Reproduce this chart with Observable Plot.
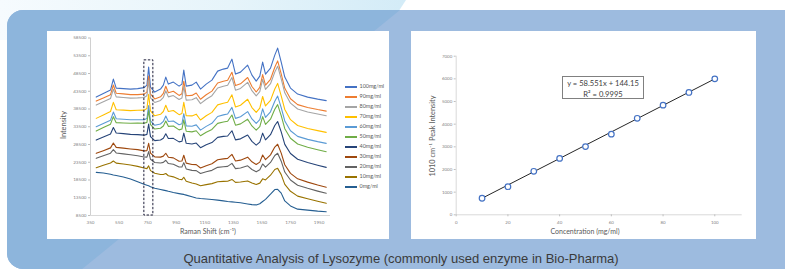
<!DOCTYPE html>
<html><head><meta charset="utf-8">
<script src="https://cdn.jsdelivr.net/npm/d3@7"></script>
<script src="https://cdn.jsdelivr.net/npm/@observablehq/plot@0.6"></script>
<style>
html,body{margin:0;padding:0;background:#fff;}
#stage{position:relative;width:785px;height:277px;overflow:hidden;background:#fff;font-family:Lato,"Liberation Sans",sans-serif;}
#glow{position:absolute;left:0;top:0;width:420px;height:40px;background:linear-gradient(90deg,#f6fbfe 0%,#e6f4fa 55%,#d2ebf7 100%);clip-path:polygon(0 0,406px 0,380px 40px,0 40px);}
#blue{position:absolute;left:7px;top:10px;width:810px;height:259px;border-radius:16px;background:#9dbbdf;overflow:hidden;}
#blueL{position:absolute;left:0;top:0;width:100%;height:100%;background:#8db5dc;clip-path:polygon(0 0,393px 0,74px 260px,0 260px);}
.panel{position:absolute;background:#fff;}
.chart{position:absolute;}
.t{position:absolute;white-space:nowrap;color:#595959;transform:translate(-50%,-50%);line-height:1;}
.leg{position:absolute;font-size:5.4px;color:#595959;white-space:nowrap;line-height:1;}
.leg i{display:inline-block;width:12px;height:1.2px;vertical-align:middle;margin-right:2.5px;}
#eq{position:absolute;left:562px;top:76px;width:82px;height:23px;border:1px solid #808080;box-sizing:border-box;background:#fff;font-size:7.6px;color:#404040;text-align:center;line-height:10.5px;padding-top:1px;}
#cap{position:absolute;left:401px;top:257.5px;transform:translate(-50%,-50%);font-family:"Liberation Sans",Arial,sans-serif;font-size:13px;color:#3a3a3a;white-space:nowrap;}
</style></head>
<body><div id="stage">
<div id="glow"></div>
<div id="blue"><div id="blueL"></div></div>
<div class="panel" style="left:47px;top:31px;width:342px;height:208px"></div>
<div class="panel" style="left:411px;top:31px;width:345px;height:208px"></div>
<div id="c1" class="chart" style="left:47px;top:31px"></div>
<div id="c2" class="chart" style="left:411px;top:31px"></div>
<div id="cap"></div>
</div>
<script>
// ---------- Left chart: Raman spectra ----------
const shifts = [390,440,490,510,530,580,630,680,725,745,757,770,800,840,860,877,895,930,970,990,1003,1020,1060,1090,1120,1160,1200,1240,1280,1310,1340,1365,1400,1450,1480,1510,1535,1555,1575,1610,1640,1660,1685,1710,1750,1800,1870,1940,2000];
const seriesNames = ["100mg/ml","90mg/ml","80mg/ml","70mg/ml","60mg/ml","50mg/ml","40mg/ml","30mg/ml","20mg/ml","10mg/ml","0mg/ml"];
const seriesColors = ["#4472C4","#ED7D31","#A5A5A5","#FFC000","#5B9BD5","#70AD47","#264478","#9E480E","#636363","#997300","#255E91"];
const s100 = [41850,42840,43830,46920,44390,44250,44110,44250,44530,45230,50300,44670,43260,44110,45230,47490,45510,46080,44950,45510,49460,44950,45230,46080,44110,45510,46640,49170,49740,50020,52550,48330,48890,50860,48050,46360,47770,51710,48330,50020,53680,55650,51710,47490,44390,42700,41850,41290,40870];
const s90 = [40730,41630,42530,45260,42950,42760,42560,42560,42700,43260,47790,42670,41320,41940,42920,44900,43070,43490,42330,42810,46330,42220,42330,43010,41260,42530,43540,45820,46330,46580,48860,45090,45600,47370,44840,43290,44590,48190,45200,46870,50270,52050,48380,44330,41380,39740,38930,38340,37910];
const s80 = [39600,40530,41460,44080,41910,41740,41570,41630,41740,42250,46500,41660,40330,40900,41800,43650,41910,42280,41180,41570,44900,41010,41090,41690,40020,41260,42250,44420,44920,45200,47370,43800,44300,46020,43650,42220,43400,46840,44020,45630,48890,50550,47010,43070,40140,38500,37660,37070,36590];
const s70 = [35860,36820,37800,40360,38280,38170,38050,38140,38170,38620,42670,37940,36590,37010,37800,39550,37800,38080,36900,37240,40390,36590,36560,37040,35410,36590,37550,39660,40140,40420,42500,39070,39570,41240,38900,37550,38730,42020,39350,40930,44130,45710,42220,38360,35490,33860,33020,32400,31920];
const s60 = [33490,34420,35350,37630,35750,35610,35460,35490,35490,35830,39490,35180,33920,34280,34990,36530,34960,35130,34060,34340,37180,33750,33660,34030,32540,33610,34480,36390,36840,37070,38960,35860,36310,37770,35690,34450,35520,38530,36140,37720,40700,42140,38870,35130,32370,30790,29950,29300,28820];
const s50 = [32280,33270,34230,36340,34650,34560,34480,34510,34480,34730,38050,34090,32850,33070,33720,35100,33610,33690,32620,32850,35440,32230,32060,32370,30960,31950,32730,34450,34850,35040,36820,33940,34310,35630,33720,32540,33520,36340,34170,35630,38450,39740,36620,32960,30260,28650,27720,27020,26460];
const s40 = [29750,30590,31440,33270,31720,31550,31350,31270,31130,31350,34250,30740,29580,29780,30280,31520,30170,30230,29240,29410,31690,28850,28650,28910,27610,28430,29050,30510,30790,30900,32370,29810,30090,31160,29380,28310,29160,31690,29810,31270,33860,34990,32060,28540,25950,24350,23420,22660,22060];
const s30 = [26010,26770,27550,28910,27690,27470,27240,27050,26710,26770,28850,26090,25020,24940,25220,26030,24910,24740,23780,23840,25470,23250,22850,22830,21870,22540,23080,24200,24460,24600,25720,23840,24090,24940,23640,22880,23530,25530,24230,25580,27780,28570,26060,22800,20380,18830,17900,17080,16440];
const s20 = [24600,25330,26060,27070,26120,25860,25610,25330,24990,24940,26510,24340,23420,23270,23470,24060,23130,22940,22150,22150,23390,21620,21220,21140,20320,20830,21220,22060,22230,22340,23190,21700,21870,22490,21450,20800,21360,23020,22120,23450,25410,26030,23810,20740,18490,17030,16150,15370,14750];
const s10 = [21950,22630,23300,23840,23250,23000,22710,22340,21870,21700,22490,21140,20380,20070,20070,20320,19700,19390,18690,18600,19280,18150,17650,17390,16890,17200,17480,17990,18100,18150,18660,17820,17930,18240,17650,17230,17620,18830,18520,19850,21450,21780,20010,17260,15310,13960,13200,12490,11930];
const s0 = [20660,20460,20100,19900,19760,19330,18770,17980,17310,17030,16860,16610,16180,15820,15650,15510,15310,14970,14660,14520,14440,14240,13790,13450,13280,13140,13000,12830,12630,12460,12350,12240,12070,11760,11560,11480,11820,12440,13060,14500,15820,15870,14800,12600,11190,10290,10010,9730,9560];
const shiftDomain = [350, 2030];
const shiftTicks = [350,550,750,950,1150,1350,1550,1750,1950];
const intensityDomain = [8500, 58500];
const intensityTicks = [8500,13500,18500,23500,28500,33500,38500,43500,48500,53500,58500];
const boxShift = [727, 790];
const boxIntensity = [8500, 52200];

// ---------- Right chart: calibration ----------
const conc = [10,20,30,40,50,60,70,80,90,100];
const peak = [730,1240,1920,2490,3010,3560,4260,4840,5400,6000];
const fitSlope = 58.551, fitIntercept = 144.15;
const concDomain = [0, 110.6];
const concTicks = [0,20,40,60,80,100];
const peakDomain = [0, 7000];
const peakTicks = [0,1000,2000,3000,4000,5000,6000,7000];

const texts = {
  leftY: "Intensity", leftX: "Raman Shift (cm\u207B\u00B9)",
  rightY: "1010 cm\u207B\u00B9 Peak Intensity", rightX: "Concentration (mg/ml)",
  eq1: "y = 58.551x + 144.15", eq2: "R\u00B2 = 0.9995",
  caption: "Quantitative Analysis of Lysozyme (commonly used enzyme in Bio-Pharma)"
};

const spectra = [s100,s90,s80,s70,s60,s50,s40,s30,s20,s10,s0];
const rows = spectra.flatMap((vals, k) => vals.map((v, i) => ({shift: shifts[i], intensity: v, series: seriesNames[k]})));

const fmt = d => String(d);
const left = Plot.plot({
  width: 342, height: 208,
  marginLeft: 43, marginRight: 59, marginTop: 6.5, marginBottom: 24,
  style: {background: "transparent", fontFamily: "Lato, sans-serif", overflow: "visible"},
  x: {domain: shiftDomain},
  y: {domain: intensityDomain},
  color: {domain: seriesNames, range: seriesColors},
  marks: [
    Plot.ruleY([intensityDomain[0]], {stroke: "#d9d9d9"}),
    Plot.ruleX([shiftDomain[0]], {stroke: "#d0d0d0"}),
    Plot.axisY({ticks: intensityTicks, tickSize: 2, tickPadding: 2, fontSize: 4.6, stroke: "#bfbfbf", fill: "#7f7f7f", label: null, tickFormat: fmt}),
    Plot.axisX({ticks: shiftTicks, tickSize: 0, tickPadding: 5, fontSize: 4.6, fill: "#7f7f7f", label: null, tickFormat: fmt}),
    Plot.line(rows, {x: "shift", y: "intensity", z: "series", stroke: "series", strokeWidth: 1.1}),
    Plot.rect([{a: boxShift[0], b: boxShift[1], c: boxIntensity[0], d: boxIntensity[1]}],
      {x1: "a", x2: "b", y1: "c", y2: "d", fill: "none", stroke: "#1f1f3a", strokeWidth: 1, strokeDasharray: "2.4,1.6"})
  ]
});
document.getElementById("c1").appendChild(left);

const calib = conc.map((c, i) => ({c, p: peak[i]}));
const fitRows = [conc[0], conc[conc.length - 1]].map(c => ({c, p: fitSlope * c + fitIntercept}));
const right = Plot.plot({
  width: 345, height: 208,
  marginLeft: 44.7, marginRight: 14.3, marginTop: 24.7, marginBottom: 24.7,
  style: {background: "transparent", fontFamily: "Lato, sans-serif", overflow: "visible"},
  x: {domain: concDomain},
  y: {domain: peakDomain},
  marks: [
    Plot.ruleY([peakDomain[0]], {stroke: "#d9d9d9"}),
    Plot.ruleX([concDomain[0]], {stroke: "#d9d9d9"}),
    Plot.axisY({ticks: peakTicks, tickSize: 2, tickPadding: 2, fontSize: 4.4, stroke: "#bfbfbf", fill: "#7f7f7f", label: null, tickFormat: fmt}),
    Plot.axisX({ticks: concTicks, tickSize: 2, tickPadding: 4, fontSize: 4.4, stroke: "#bfbfbf", fill: "#7f7f7f", label: null, tickFormat: fmt}),
    Plot.line(fitRows, {x: "c", y: "p", stroke: "#262626", strokeWidth: 1}),
    Plot.dot(calib, {x: "c", y: "p", r: 2.8, stroke: "#4472C4", strokeWidth: 1.2, fill: "white"})
  ]
});
document.getElementById("c2").appendChild(right);

// ---------- text overlays ----------
const stage = document.getElementById("stage");
function label(txt, cx, cy, size, rot) {
  const d = document.createElement("div");
  d.className = "t";
  d.textContent = txt;
  d.style.left = cx + "px"; d.style.top = cy + "px"; d.style.fontSize = size + "px";
  if (rot) d.style.transform = "translate(-50%,-50%) rotate(-90deg)";
  stage.appendChild(d);
}
label(texts.leftY, 64, 125, 7.4, true);
label(texts.leftX, 208, 231, 7, false);
label(texts.rightY, 433, 136, 7.4, true);
label(texts.rightX, 585, 231, 7, false);

seriesNames.forEach((name, i) => {
  const d = document.createElement("div");
  d.className = "leg";
  d.style.left = "345px"; d.style.top = (84.3 + 10 * i) + "px";
  d.innerHTML = '<i style="background:' + seriesColors[i] + '"></i>' + name;
  stage.appendChild(d);
});

const eq = document.createElement("div");
eq.id = "eq";
eq.innerHTML = texts.eq1 + "<br>" + texts.eq2;
stage.appendChild(eq);
document.getElementById("cap").textContent = texts.caption;
</script>
</body></html>
